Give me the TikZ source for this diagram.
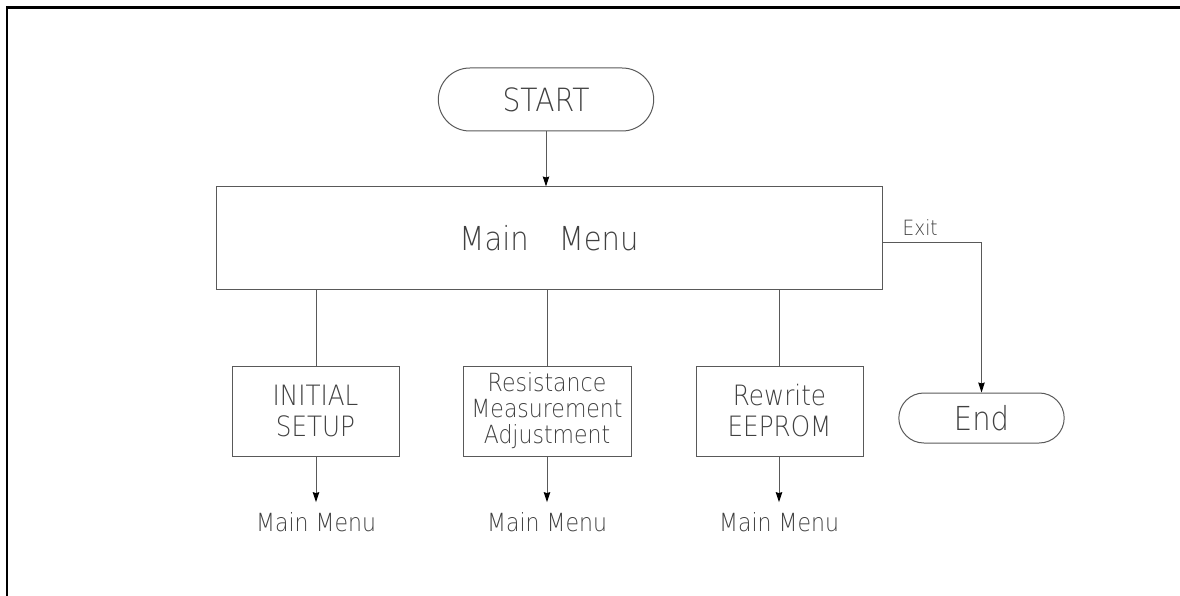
\documentclass[tikz,border=0pt]{standalone}
\usepackage{fontspec}
\setmainfont{DejaVu Sans ExtraLight}[FakeStretch=0.88]
\usetikzlibrary{arrows.meta, shapes.misc, positioning}

\tikzset{
  frame/.style={line width=2.6pt, black},
  flow/.style={line width=1pt, black!65},
  term/.style={rounded rectangle, draw=black!65, line width=1pt, text=black!75},
  proc/.style={rectangle, draw=black!65, line width=1pt, text=black!75, align=center},
  lbl/.style={text=black!75, inner xsep=0pt, inner ysep=10pt, font=\fontsize{25}{25}\selectfont}
}

\begin{document}
\begin{tikzpicture}[x=1pt, y=-1pt, >={Stealth[length=10pt, width=6.5pt, inset=1pt, color=black]}]

%\draw[xstep=100pt,ystep=-100pt,color=gray!40] (0,0) grid (1180,596);
\useasboundingbox (0,0) rectangle (1180,596);

\draw[frame] (7,596) -- (7,7.5) -- (1180,7.5);

\node[term, minimum width=222pt, minimum height=63pt, font=\fontsize{32}{32}\selectfont] (start) at (546,99.5) {START};

\node[proc, minimum width=666pt, minimum height=102pt, font=\fontsize{33}{33}\selectfont] (menu) at (549,238) {Main\hspace{30pt}Menu};

\node[term, minimum width=172pt, minimum height=50pt, font=\fontsize{33}{33}\selectfont] (end) at (981.5,418) {End};

\node[proc, minimum width=167pt, minimum height=90pt, font=\fontsize{28}{31}\selectfont] (b1) at (315.5,411) {INITIAL\\SETUP};
\node[proc, minimum width=168pt, minimum height=90pt, inner sep=0pt, font=\fontsize{25}{26}\selectfont] (b2) at (547,411) {Resistance\\Measurement\\Adjustment};
\node[proc, minimum width=167pt, minimum height=90pt, font=\fontsize{28}{31}\selectfont] (b3) at (779.5,411) {Rewrite\\EEPROM};

\draw[flow, ->] (start.south) -- (start.south |- menu.north);

\draw[flow, ->] ([yshift=-4pt]menu.east) -| node[pos=0.19, above=3pt, text=black!75, font=\fontsize{21}{21}\selectfont] {Exit} (end.north);

\foreach \n/\x in {b1/316, b2/547, b3/779}
{
\draw[flow] (\x,0 |- menu.south) -- (\x,0 |- \n.north);
\node[lbl] (\n m) at (\x,522) {Main Menu};
\draw[flow, ->] (\x,0 |- \n.south) -- (\n m.north);
}

\end{tikzpicture}
\end{document}
